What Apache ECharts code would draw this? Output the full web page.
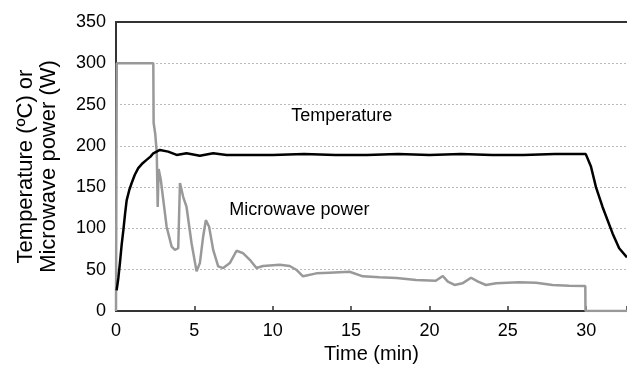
<!DOCTYPE html>
<html>
<head>
<meta charset="utf-8">
<script src="https://cdn.jsdelivr.net/npm/echarts@6/dist/echarts.min.js"></script>
<style>
  html, body { margin: 0; padding: 0; background: #fff; }
  #chart { width: 627px; height: 365px; }
</style>
</head>
<body>
<div id="chart"></div>
<script>
// temperature curve (min, ºC)
const tempTime = [0.04, 0.15, 0.25, 0.36, 0.47, 0.58, 0.68, 0.84, 1.0, 1.2, 1.42, 1.7, 1.95, 2.2, 2.38, 2.8, 3.33, 3.87, 4.5, 5.35, 6.2, 7.05, 8, 10, 12, 14, 16, 18, 20, 22, 24, 26, 28, 29.97, 30.08, 30.3, 30.62, 31.04, 31.68, 32.1, 32.6]
const tempValue = [25, 40, 58, 80, 98, 118, 134, 146, 155, 165, 173, 179, 183, 187, 191, 195, 193, 189, 191, 188, 191, 189, 189, 189, 190, 189, 189, 190, 189, 190, 189, 189, 190, 190, 189, 175, 150, 126, 94, 76, 65]

// microwave power (min, W)
const powerTime = [0, 0.05, 2.38, 2.4, 2.5, 2.6, 2.66, 2.72, 2.85, 3.23, 3.55, 3.76, 3.97, 4.08, 4.18, 4.29, 4.5, 4.82, 5.14, 5.35, 5.56, 5.73, 5.94, 6.2, 6.52, 6.84, 7.26, 7.69, 8.1, 8.54, 8.96, 9.38, 10.45, 11.08, 11.5, 11.93, 12.78, 13.6, 14.9, 15.75, 16.8, 17.9, 19.15, 20.4, 20.85, 21.17, 21.6, 22.1, 22.65, 23.1, 23.6, 24.25, 25.7, 26.8, 27.85, 28.9, 29.94, 29.95, 32.6]
const powerValue = [0, 300, 300, 228, 215, 192, 126, 172, 160, 102, 78, 74, 76, 155, 155, 138, 126, 82, 48, 58, 90, 110, 102, 74, 54, 52, 58, 73, 70, 62, 52, 54.5, 56, 54.5, 50, 42, 45.6, 46.4, 47.6, 42, 40.8, 40, 37.5, 36.7, 42.4, 35.5, 31.5, 33.5, 40.3, 35.5, 31.5, 33.5, 34.7, 34.3, 31.5, 30.7, 30.3, 0, 0]

// in-plot labels: [time, value, text]
const notes = [
  [14.4, 236, 'Temperature'],
  [11.7, 122, 'Microwave power'],
]

const xTicks = [0, 5, 10, 15, 20, 25, 30]
const yTicks = [0, 50, 100, 150, 200, 250, 300, 350]

const pair = (xs, ys) => xs.map((x, i) => [x, ys[i]])

const chart = echarts.init(document.getElementById('chart'))
const font = 'Liberation Sans, Arial, sans-serif'

chart.setOption({
  animation: false,
  grid: { left: 116, right: 0, top: 22, bottom: 54, outerBoundsMode: 'none', containLabel: false },
  xAxis: [
    {
      type: 'value',
      min: 0,
      max: 32.6,
      interval: 5,
      name: 'Time (min)',
      nameLocation: 'middle',
      nameGap: 30,
      nameTextStyle: { color: '#000', fontSize: 20, fontFamily: font },
      axisLine: { lineStyle: { color: '#333', width: 2 } },
      axisTick: { inside: true, length: 5, lineStyle: { color: '#333', width: 1.5 } },
      axisLabel: {
        color: '#000', fontSize: 18, fontFamily: font, margin: 11,
        formatter: (v) => (xTicks.includes(v) ? String(v) : ''),
      },
      splitLine: { show: false },
    },
    {
      type: 'value',
      position: 'top',
      min: 0,
      max: 32.6,
      axisLine: { show: true, onZero: false, lineStyle: { color: '#333', width: 2 } },
      axisTick: { show: false },
      axisLabel: { show: false },
      splitLine: { show: false },
    },
  ],
  yAxis: {
    type: 'value',
    min: 0,
    max: 350,
    interval: 50,
    name: 'Temperature (ºC) or\nMicrowave power (W)',
    nameLocation: 'middle',
    nameGap: 56,
    nameTextStyle: { color: '#000', fontSize: 22, fontFamily: font, lineHeight: 23 },
    axisLine: { show: true, lineStyle: { color: '#333', width: 2 } },
    axisTick: { show: false },
    axisLabel: {
      color: '#000', fontSize: 18, fontFamily: font, margin: 10,
      formatter: (v) => (yTicks.includes(v) ? String(v) : ''),
    },
    splitLine: {
      lineStyle: { color: '#bbb', type: [2, 2], width: 1 },
      showMaxLine: false,
    },
  },
  series: [
    {
      name: 'Microwave power',
      type: 'line',
      data: pair(powerTime, powerValue),
      showSymbol: false,
      lineStyle: { color: '#999', width: 2.5 },
      z: 2,
    },
    {
      name: 'Temperature',
      type: 'line',
      data: pair(tempTime, tempValue),
      showSymbol: false,
      lineStyle: { color: '#000', width: 2.5 },
      z: 3,
    },
    {
      type: 'scatter',
      data: notes,
      symbolSize: 0,
      silent: true,
      itemStyle: { opacity: 1 },
      label: {
        show: true,
        position: 'inside',
        color: '#000',
        fontSize: 18,
        fontFamily: font,
        formatter: (p) => p.data[2],
      },
      z: 4,
    },
  ],
})
</script>
</body>
</html>
